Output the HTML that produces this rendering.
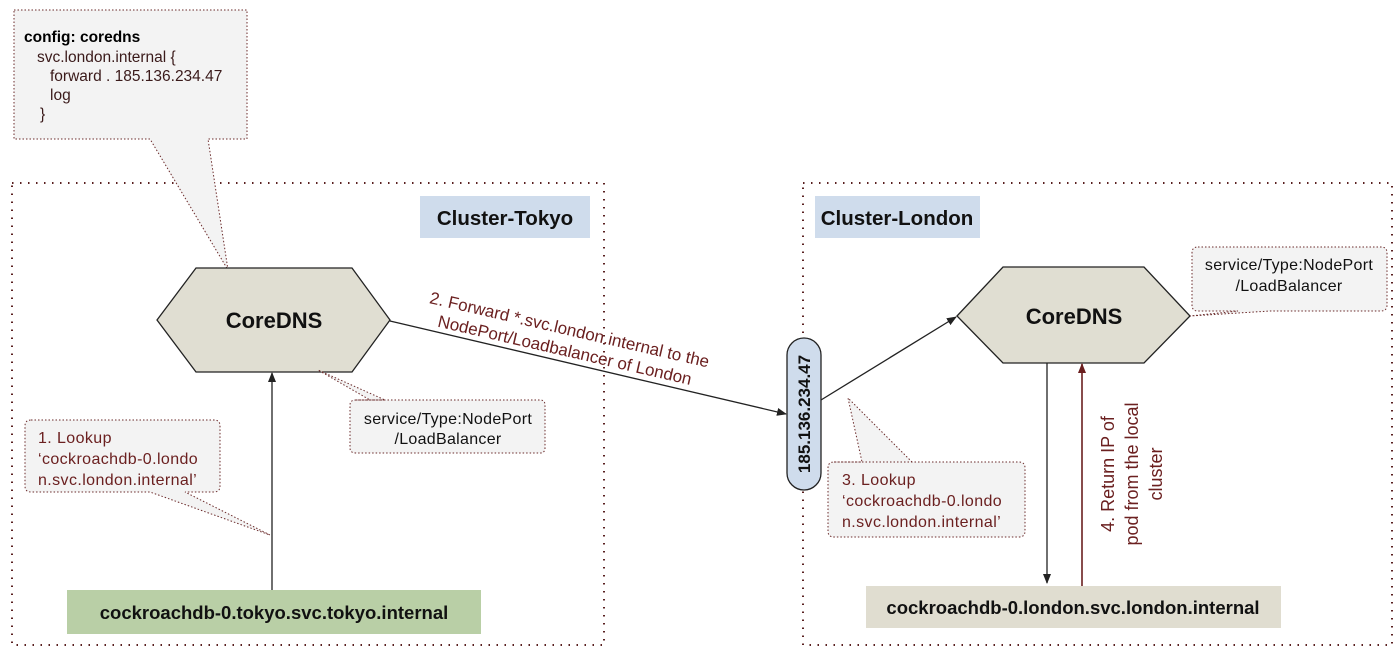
<!DOCTYPE html>
<html><head><meta charset="utf-8"><style>
html,body{margin:0;padding:0;background:#fff;}
svg{display:block;font-family:"Liberation Sans",Arial,sans-serif;}
</style></head><body>
<svg width="1400" height="656" viewBox="0 0 1400 656" xmlns="http://www.w3.org/2000/svg">
<defs>
<marker id="ab" markerWidth="10" markerHeight="8" refX="9" refY="4" orient="auto" markerUnits="userSpaceOnUse"><path d="M0,0 L10,4 L0,8 z" fill="#222"/></marker>
<marker id="ar" markerWidth="10" markerHeight="8" refX="9" refY="4" orient="auto" markerUnits="userSpaceOnUse"><path d="M0,0 L10,4 L0,8 z" fill="#6b1f1f"/></marker>
</defs>
<rect x="12" y="183" width="592" height="462" fill="none" stroke="#5a2020" stroke-width="2" stroke-dasharray="1.5 6.5"/>
<rect x="803" y="183" width="589" height="462" fill="none" stroke="#5a2020" stroke-width="2" stroke-dasharray="1.5 6.5"/>
<path d="M14,10 H247 V139 H208 L228,270 L150,139 H14 Z" fill="#f3f3f3" stroke="#6b2b2b" stroke-width="1" stroke-dasharray="1.5 2"/>
<text x="24" y="42" font-size="15.5" font-weight="bold" fill="#000">config: coredns</text>
<text font-size="15.5" fill="#3a1a1a"><tspan x="37" y="62">svc.london.internal {</tspan><tspan x="50" y="81">forward . 185.136.234.47</tspan><tspan x="50" y="100">log</tspan><tspan x="40" y="119">}</tspan></text>
<rect x="420" y="196" width="170" height="42" fill="#cfdcec"/>
<text x="505" y="225" font-size="20.5" font-weight="bold" text-anchor="middle" fill="#111">Cluster-Tokyo</text>
<rect x="815" y="196" width="165" height="42" fill="#cfdcec"/>
<text x="897" y="225" font-size="20.5" font-weight="bold" text-anchor="middle" fill="#111">Cluster-London</text>
<polygon points="157,320 196,268 352,268 390,320 352,372 196,372" fill="#e0ded2" stroke="#222" stroke-width="1.3"/>
<text x="274" y="328" font-size="22" font-weight="bold" text-anchor="middle" fill="#111">CoreDNS</text>
<polygon points="957,316 1003,267 1144,267 1190,316 1144,363 1003,363" fill="#e0ded2" stroke="#222" stroke-width="1.3"/>
<text x="1074" y="324" font-size="22" font-weight="bold" text-anchor="middle" fill="#111">CoreDNS</text>
<rect x="787" y="338" width="34" height="152" rx="17" fill="#cfdcec" stroke="#222" stroke-width="1.3"/>
<text transform="translate(810,414) rotate(-90)" font-size="17" font-weight="bold" text-anchor="middle" fill="#111">185.136.234.47</text>
<line x1="390" y1="321" x2="786" y2="414" stroke="#222" stroke-width="1.3" marker-end="url(#ab)"/>
<line x1="821" y1="400" x2="956" y2="317" stroke="#222" stroke-width="1.3" marker-end="url(#ab)"/>
<text transform="translate(566,345) rotate(13)" font-size="17" fill="#6b2020" text-anchor="middle"><tspan x="0" y="-10">2. Forward *.svc.london.internal to the</tspan><tspan x="0" y="11">NodePort/Loadbalancer of London</tspan></text>
<path d="M356,400 H540 Q545,400 545,405 V448 Q545,453 540,453 H356 Q350,453 350,448 V405 Q350,400 356,400 H385 L318,370 L370,400" fill="#f3f3f3" stroke="#6b2b2b" stroke-width="1" stroke-dasharray="1.5 2"/>
<text font-size="16" text-anchor="middle" fill="#111" letter-spacing="0.3"><tspan x="448" y="424">service/Type:NodePort</tspan><tspan x="448" y="444">/LoadBalancer</tspan></text>
<path d="M31,420 H214 Q220,420 220,426 V486 Q220,492 214,492 H185 L270,535 L150,492 H31 Q25,492 25,486 V426 Q25,420 31,420 Z" fill="#f3f3f3" stroke="#6b2b2b" stroke-width="1" stroke-dasharray="1.5 2"/>
<text font-size="16" fill="#6b2020" letter-spacing="0.4"><tspan x="38" y="443">1. Lookup</tspan><tspan x="38" y="464">‘cockroachdb-0.londo</tspan><tspan x="38" y="485">n.svc.london.internal’</tspan></text>
<line x1="272" y1="590" x2="272" y2="373" stroke="#222" stroke-width="1.3" marker-end="url(#ab)"/>
<rect x="67" y="590" width="414" height="44" fill="#b9cfa6"/>
<text x="274" y="619" font-size="18.5" font-weight="bold" text-anchor="middle" fill="#111">cockroachdb-0.tokyo.svc.tokyo.internal</text>
<path d="M834,462 H1019 Q1025,462 1025,468 V531 Q1025,537 1019,537 H834 Q828,537 828,531 V468 Q828,462 834,462 H862 L848,398 L912,462" fill="#f3f3f3" stroke="#6b2b2b" stroke-width="1" stroke-dasharray="1.5 2"/>
<text font-size="16" fill="#6b2020" letter-spacing="0.4"><tspan x="842" y="485">3. Lookup</tspan><tspan x="842" y="506">‘cockroachdb-0.londo</tspan><tspan x="842" y="527">n.svc.london.internal’</tspan></text>
<path d="M1198,247 H1381 Q1387,247 1387,253 V305 Q1387,311 1381,311 H1270 L1190,316 L1238,311 H1198 Q1192,311 1192,305 V253 Q1192,247 1198,247 Z" fill="#f3f3f3" stroke="#6b2b2b" stroke-width="1" stroke-dasharray="1.5 2"/>
<text font-size="16" text-anchor="middle" fill="#111" letter-spacing="0.3"><tspan x="1289" y="270">service/Type:NodePort</tspan><tspan x="1289" y="291">/LoadBalancer</tspan></text>
<line x1="1047" y1="363" x2="1047" y2="583" stroke="#222" stroke-width="1.3" marker-end="url(#ab)"/>
<line x1="1082" y1="586" x2="1082" y2="364" stroke="#6b1f1f" stroke-width="1.6" marker-end="url(#ar)"/>
<text transform="translate(1136,474) rotate(-90)" font-size="18" fill="#6b2020" text-anchor="middle"><tspan x="0" y="-22">4. Return IP of</tspan><tspan x="0" y="2">pod from the local</tspan><tspan x="0" y="26">cluster</tspan></text>
<rect x="866" y="586" width="415" height="42" fill="#e0ddd0"/>
<text x="1073" y="614" font-size="18.5" font-weight="bold" text-anchor="middle" fill="#111">cockroachdb-0.london.svc.london.internal</text>
</svg>
</body></html>
